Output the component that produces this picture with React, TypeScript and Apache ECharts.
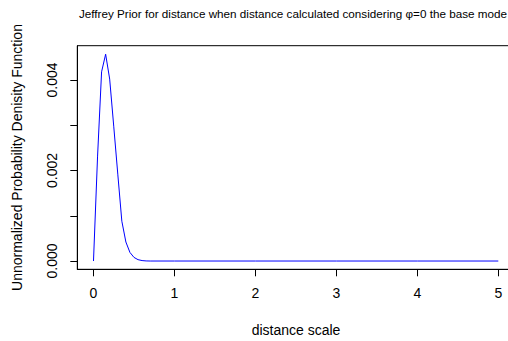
import React, { useEffect, useRef } from "react";
import * as echarts from "echarts";

const distance = [0, 0.05, 0.1, 0.15, 0.2, 0.25, 0.3, 0.35, 0.4, 0.45, 0.5, 0.55, 0.6, 0.65, 0.7, 1, 2, 3, 4, 5];
const density = [0, 0.0023, 0.00418, 0.00457, 0.00402, 0.00298, 0.00192, 0.00088, 0.00042, 0.00019, 0.00008, 0.00003, 0.00001, 0.000002, 0, 0, 0, 0, 0, 0];
const xTicks = [0, 1, 2, 3, 4, 5];
const yTicks = [0, 0.001, 0.002, 0.003, 0.004];
const yLabels = [0, 0.002, 0.004];

const titleText = "Jeffrey Prior for distance when distance calculated considering \u03c6=0 the base mode";
const xTitle = "distance scale";
const yTitle = "Unnormalized Probability Denisity Function";

const FONT = "'Liberation Sans', Arial, Helvetica, sans-serif";

export default function App() {
  const ref = useRef<HTMLDivElement>(null);
  useEffect(() => {
    if (!ref.current) return;
    const chart = echarts.init(ref.current, null, { renderer: "svg" });
    const data = distance.map((d, i) => [d, density[i]]);
    chart.setOption({
      animation: false,
      backgroundColor: "#ffffff",
      grid: {
        left: 77.3,
        top: 45.7,
        width: 437.2,
        height: 223.6,
        show: true,
        borderColor: "#000000",
        borderWidth: 1,
        backgroundColor: "transparent",
        outerBoundsMode: "none",
        containLabel: false,
      },
      xAxis: {
        type: "value",
        min: -0.2,
        max: 5.2,
        splitLine: { show: false },
        axisLine: { show: true, onZero: false, lineStyle: { color: "#000", width: 1 } },
        axisTick: { show: true, customValues: xTicks, length: 7, lineStyle: { color: "#000" } },
        axisLabel: {
          customValues: xTicks,
          color: "#000",
          fontSize: 14,
          fontFamily: FONT,
          margin: 17,
          formatter: (v: number) => String(v),
        },
      },
      yAxis: {
        type: "value",
        min: -0.000183,
        max: 0.004758,
        splitLine: { show: false },
        axisLine: { show: true, onZero: false, lineStyle: { color: "#000", width: 1 } },
        axisTick: { show: true, customValues: yTicks, length: 7, lineStyle: { color: "#000" } },
        axisLabel: {
          customValues: yLabels,
          rotate: 90,
          color: "#000",
          fontSize: 14,
          fontFamily: FONT,
          margin: 18,
          formatter: (v: number) => v.toFixed(3),
        },
      },
      graphic: [
        {
          type: "text",
          x: 507,
          y: 13,
          style: {
            text: titleText,
            font: `11.7px ${FONT}`,
            fill: "#000",
            textAlign: "right",
            textVerticalAlign: "middle",
          },
        },
        {
          type: "text",
          x: 296,
          y: 330,
          style: {
            text: xTitle,
            font: `14px ${FONT}`,
            fill: "#000",
            textAlign: "center",
            textVerticalAlign: "middle",
          },
        },
        {
          type: "text",
          x: 17,
          y: 157.5,
          rotation: Math.PI / 2,
          style: {
            text: yTitle,
            font: `14px ${FONT}`,
            fill: "#000",
            textAlign: "center",
            textVerticalAlign: "middle",
          },
        },
      ],
      series: [
        {
          type: "line",
          data,
          showSymbol: false,
          symbol: "none",
          lineStyle: { color: "#0000ff", width: 1 },
          clip: true,
        },
      ],
    });
    return () => chart.dispose();
  }, []);
  return <div ref={ref} style={{ width: 508, height: 341, position: "absolute", left: 0, top: 0 }} />;
}
